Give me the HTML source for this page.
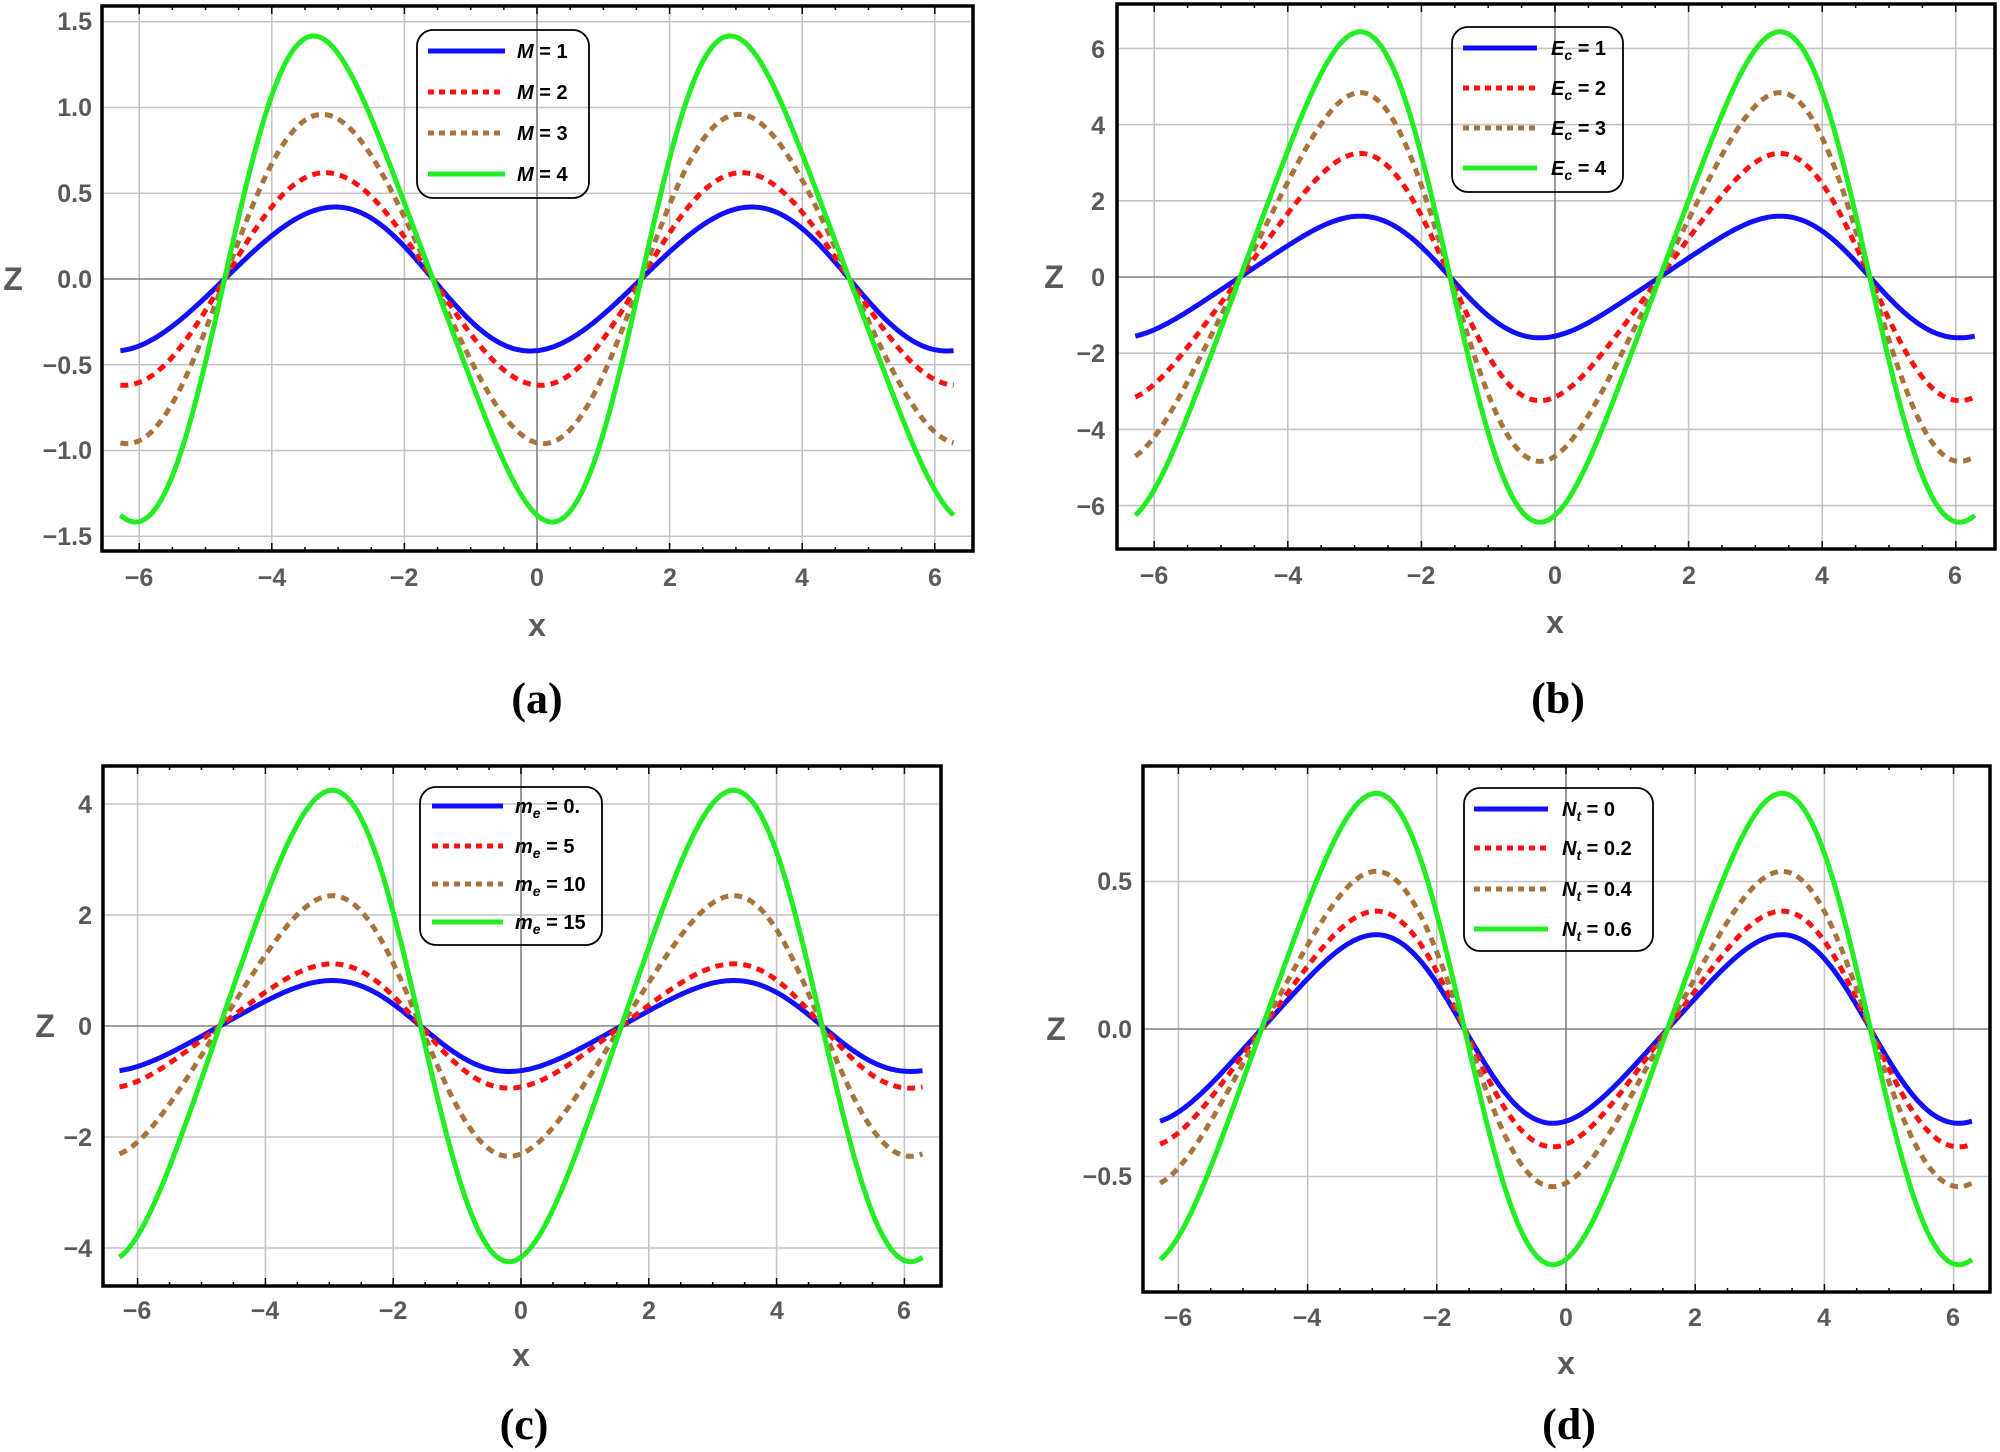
<!DOCTYPE html>
<html><head><meta charset="utf-8"><style>
html,body{margin:0;padding:0;background:#fff;}
svg{display:block;}
.tk{font-family:"Liberation Sans",sans-serif;font-size:25px;font-weight:bold;fill:#5a5a5a;}
.ax{font-family:"Liberation Sans",sans-serif;font-size:32px;font-weight:bold;fill:#5a5a5a;}
.pl{font-family:"Liberation Serif",serif;font-size:44px;font-weight:bold;fill:#000;}
.lg{font-family:"Liberation Sans",sans-serif;font-size:20px;font-weight:bold;fill:#000;}
.lg tspan.i{font-style:italic;}
</style></head><body>
<svg id="s" width="2000" height="1452" viewBox="0 0 2000 1452" xmlns="http://www.w3.org/2000/svg">
<g id="plots"></g>

<g class="tk" text-anchor="end">
<text x="92" y="288">0.0</text><text x="92" y="30">1.5</text><text x="92" y="116">1.0</text><text x="92" y="202">0.5</text>
<text x="92" y="374">−0.5</text><text x="92" y="459">−1.0</text><text x="92" y="545">−1.5</text>
</g>
<g class="tk" text-anchor="middle">
<text x="139" y="586">−6</text><text x="272" y="586">−4</text><text x="404" y="586">−2</text><text x="537" y="586">0</text><text x="670" y="586">2</text><text x="802" y="586">4</text><text x="935" y="586">6</text>
</g>
<text class="ax" x="13" y="290" text-anchor="middle">Z</text>
<text class="ax" x="537" y="636" text-anchor="middle">x</text>
<text class="pl" x="537" y="713" text-anchor="middle">(a)</text>
<g class="lg">
<text x="517" y="58"><tspan class="i">M</tspan> = 1</text>
<text x="517" y="99"><tspan class="i">M</tspan> = 2</text>
<text x="517" y="140"><tspan class="i">M</tspan> = 3</text>
<text x="517" y="181"><tspan class="i">M</tspan> = 4</text>
</g>

<g class="tk" text-anchor="end">
<text x="1105" y="58">6</text><text x="1105" y="134">4</text><text x="1105" y="210">2</text><text x="1105" y="286">0</text>
<text x="1105" y="362">−2</text><text x="1105" y="439">−4</text><text x="1105" y="515">−6</text>
</g>
<g class="tk" text-anchor="middle">
<text x="1154" y="584">−6</text><text x="1288" y="584">−4</text><text x="1421" y="584">−2</text><text x="1555" y="584">0</text><text x="1689" y="584">2</text><text x="1822" y="584">4</text><text x="1955" y="584">6</text>
</g>
<text class="ax" x="1054" y="288" text-anchor="middle">Z</text>
<text class="ax" x="1555" y="633" text-anchor="middle">x</text>
<text class="pl" x="1558" y="713" text-anchor="middle">(b)</text>
<g class="lg">
<text x="1551" y="55"><tspan class="i">E<tspan font-size="14" dy="5">c</tspan></tspan><tspan dy="-5"> = 1</tspan></text>
<text x="1551" y="95"><tspan class="i">E<tspan font-size="14" dy="5">c</tspan></tspan><tspan dy="-5"> = 2</tspan></text>
<text x="1551" y="135"><tspan class="i">E<tspan font-size="14" dy="5">c</tspan></tspan><tspan dy="-5"> = 3</tspan></text>
<text x="1551" y="175"><tspan class="i">E<tspan font-size="14" dy="5">c</tspan></tspan><tspan dy="-5"> = 4</tspan></text>
</g>

<g class="tk" text-anchor="end">
<text x="92" y="813">4</text><text x="92" y="924">2</text><text x="92" y="1035">0</text><text x="92" y="1146">−2</text><text x="92" y="1257">−4</text>
</g>
<g class="tk" text-anchor="middle">
<text x="137" y="1319">−6</text><text x="265" y="1319">−4</text><text x="393" y="1319">−2</text><text x="521" y="1319">0</text><text x="649" y="1319">2</text><text x="777" y="1319">4</text><text x="904" y="1319">6</text>
</g>
<text class="ax" x="45" y="1037" text-anchor="middle">Z</text>
<text class="ax" x="521" y="1366" text-anchor="middle">x</text>
<text class="pl" x="524" y="1439" text-anchor="middle">(c)</text>
<g class="lg">
<text x="515" y="813"><tspan class="i">m<tspan font-size="14" dy="5">e</tspan></tspan><tspan dy="-5"> = 0.</tspan></text>
<text x="515" y="853"><tspan class="i">m<tspan font-size="14" dy="5">e</tspan></tspan><tspan dy="-5"> = 5</tspan></text>
<text x="515" y="891"><tspan class="i">m<tspan font-size="14" dy="5">e</tspan></tspan><tspan dy="-5"> = 10</tspan></text>
<text x="515" y="929"><tspan class="i">m<tspan font-size="14" dy="5">e</tspan></tspan><tspan dy="-5"> = 15</tspan></text>
</g>

<g class="tk" text-anchor="end">
<text x="1132" y="890">0.5</text><text x="1132" y="1038">0.0</text><text x="1132" y="1185">−0.5</text>
</g>
<g class="tk" text-anchor="middle">
<text x="1178" y="1326">−6</text><text x="1307" y="1326">−4</text><text x="1437" y="1326">−2</text><text x="1566" y="1326">0</text><text x="1695" y="1326">2</text><text x="1824" y="1326">4</text><text x="1953" y="1326">6</text>
</g>
<text class="ax" x="1056" y="1040" text-anchor="middle">Z</text>
<text class="ax" x="1566" y="1374" text-anchor="middle">x</text>
<text class="pl" x="1569" y="1439" text-anchor="middle">(d)</text>
<g class="lg">
<text x="1562" y="816"><tspan class="i">N<tspan font-size="14" dy="5">t</tspan></tspan><tspan dy="-5"> = 0</tspan></text>
<text x="1562" y="855"><tspan class="i">N<tspan font-size="14" dy="5">t</tspan></tspan><tspan dy="-5"> = 0.2</tspan></text>
<text x="1562" y="896"><tspan class="i">N<tspan font-size="14" dy="5">t</tspan></tspan><tspan dy="-5"> = 0.4</tspan></text>
<text x="1562" y="936"><tspan class="i">N<tspan font-size="14" dy="5">t</tspan></tspan><tspan dy="-5"> = 0.6</tspan></text>
</g>
</svg>
<script>
(function(){
var NS="http://www.w3.org/2000/svg";
var root=document.getElementById("plots");
function el(n,a,p){var e=document.createElementNS(NS,n);for(var k in a)e.setAttribute(k,a[k]);(p||root).appendChild(e);return e;}
var cols=["#1010ff","#ff1010","#a8743c","#22ee22"];
var P=[
{L:102,R:973,T:6,B:551,x0:537,sx:66.3,y0:279,sy:171.5,yt:[-1.5,-1,-0.5,0.5,1,1.5],A:[0.42,0.62,0.96,1.42],Br:[0.05,-0.025,-0.05,-0.125],
 lg:[417,30,589,198],ly:[51,92,133,174],lx:[428,505]},
{L:1117,R:1995,T:4,B:549,x0:1555,sx:66.8,y0:277,sy:38.1,yt:[-6,-4,-2,2,4,6],A:[1.6,3.25,4.85,6.45],Br:[0.125,0.125,0.125,0.125],
 lg:[1452,27,1623,192],ly:[48,88,128,168],lx:[1463,1537]},
{L:103,R:941,T:766,B:1286,x0:521,sx:63.9,y0:1026,sy:55.5,yt:[-4,-2,2,4],A:[0.82,1.12,2.35,4.25],Br:[0.1,0.1,0.1,0.1],
 lg:[420,787,602,945],ly:[806,846,884,922],lx:[432,503]},
{L:1143,R:1990,T:766,B:1292,x0:1566,sx:64.6,y0:1029,sy:295,yt:[-0.5,0.5],A:[0.32,0.40,0.535,0.80],Br:[0.11,0.11,0.11,0.11],
 lg:[1464,788,1653,951],ly:[809,848,889,929],lx:[1474,1548]}
];
P.forEach(function(p,i){
  var g=el("g",{});
  var cid="c"+i;
  var cp=el("clipPath",{id:cid},g);el("rect",{x:p.L,y:p.T,width:p.R-p.L,height:p.B-p.T},cp);
  for(var v=-6;v<=6;v+=2){ if(v===0)continue; var X=p.x0+v*p.sx; el("line",{x1:X,y1:p.T,x2:X,y2:p.B,stroke:"#c4c4c4","stroke-width":1.6},g);}
  p.yt.forEach(function(v){var Y=p.y0-v*p.sy;el("line",{x1:p.L,y1:Y,x2:p.R,y2:Y,stroke:"#c4c4c4","stroke-width":1.6},g);});
  el("line",{x1:p.x0,y1:p.T,x2:p.x0,y2:p.B,stroke:"#808080","stroke-width":1.6},g);
  el("line",{x1:p.L,y1:p.y0,x2:p.R,y2:p.y0,stroke:"#808080","stroke-width":1.6},g);
  for(var v=-6;v<=6.01;v+=0.5){var X=p.x0+v*p.sx;var len=(Math.abs(v%2)<0.01)?8:4;
    el("line",{x1:X,y1:p.B,x2:X,y2:p.B-len,stroke:"#000","stroke-width":1.5},g);
    el("line",{x1:X,y1:p.T,x2:X,y2:p.T+len,stroke:"#000","stroke-width":1.5},g);}
  var cg=el("g",{"clip-path":"url(#"+cid+")"},g);
  [0,1,2,3].forEach(function(k){
    var r=p.Br[k];
    var A=p.A[k]/(1+2*r*r),B=r*A,d="";
    for(var j=0;j<=500;j++){var x=-2*Math.PI+4*Math.PI*j/500;
      var z=-A*Math.cos(x)+B*Math.sin(2*x);
      d+=(j?"L":"M")+(p.x0+x*p.sx).toFixed(1)+" "+(p.y0-z*p.sy).toFixed(1);}
    var a={d:d,fill:"none",stroke:cols[k],"stroke-width":5,"stroke-linejoin":"round"};
    if(k===1||k===2)a["stroke-dasharray"]="8 6";
    el("path",a,cg);
  });
  el("rect",{x:p.L,y:p.T,width:p.R-p.L,height:p.B-p.T,fill:"none",stroke:"#000","stroke-width":3.5},g);
  var l=p.lg;
  el("rect",{x:l[0],y:l[1],width:l[2]-l[0],height:l[3]-l[1],rx:16,ry:16,fill:"none",stroke:"#000","stroke-width":1.8},g);
  p.ly.forEach(function(y,k){var a={x1:p.lx[0],y1:y,x2:p.lx[1],y2:y,stroke:cols[k],"stroke-width":5};
    if(k===1||k===2)a["stroke-dasharray"]="6 5";el("line",a,g);});
});
})();
</script>
</body></html>
